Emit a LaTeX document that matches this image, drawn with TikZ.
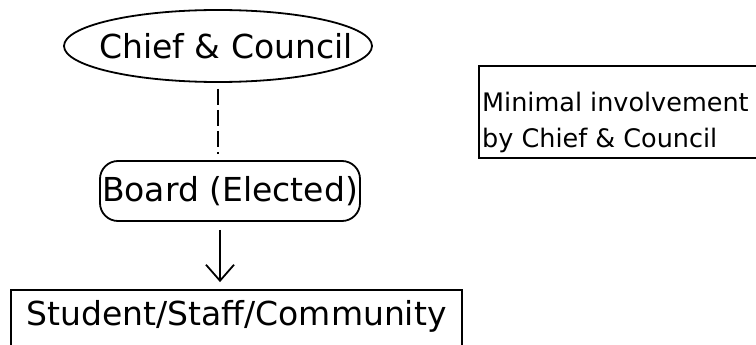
\documentclass[tikz,border=0pt]{standalone}
\usepackage{fontspec}
\setmainfont{DejaVu Sans}
\usetikzlibrary{arrows.meta,calc,shapes.geometric}

\tikzset{
  frame/.style={draw=black, line width=1.8pt},
  bigtext/.style={font=\fontsize{33}{40}\selectfont},
  smalltext/.style={font=\fontsize{25.5}{36}\selectfont},
  link/.style={line width=1.8pt, dash pattern=on 16pt off 5pt},
  flow/.style={line width=1.8pt, -{Straight Barb[length=16pt,width=28pt,line width=1.8pt]}}
}

\begin{document}
\begin{tikzpicture}[x=1pt, y=-1pt]
  \useasboundingbox (0,0) rectangle (756,345);
  \clip (0,0) rectangle (756,345);

  % top: chief and council
  \node[frame, shape=ellipse, minimum width=308pt, minimum height=72pt, inner sep=0pt] (chief) at (218,46) {};
  \node[bigtext, inner sep=0pt] (chieftext) at ($(chief.center)+(8,0)$) {Chief \& Council};

  % elected board
  \node[frame, rounded corners=18pt, minimum width=260pt, minimum height=60pt, inner sep=0pt, bigtext] (board) at (230,191) {Board (Elected)};

  % bottom box, open at the lower edge
  \node[frame, bigtext, anchor=base east, inner xsep=13pt, inner ysep=8pt, text height=27pt, text depth=60pt, text width=425pt, align=center] (people) at (463,325) {Student/Staff/Community};

  % note on the right, open at the right edge
  \node[frame, anchor=north west, minimum width=300pt, minimum height=92pt, inner sep=0pt] (notebox) at (478,65) {};
  \node[smalltext, align=left, anchor=north west, inner sep=0pt] (notetext) at ($(notebox.north west)+(4,27)$) {Minimal involvement\\by Chief \& Council};

  % connectors
  \coordinate (dashtop) at ($(chief.south)+(0,6)$);
  \coordinate (dashend) at (dashtop |- board.north);
  \draw[link] (dashtop) -- ($(dashend)+(0,-6)$);

  \coordinate (arrowtop) at ($(board.south)+(-10,8)$);
  \coordinate (arrowend) at (arrowtop |- people.north);
  \draw[flow] (arrowtop) -- ($(arrowend)+(0,-7)$);
\end{tikzpicture}
\end{document}
